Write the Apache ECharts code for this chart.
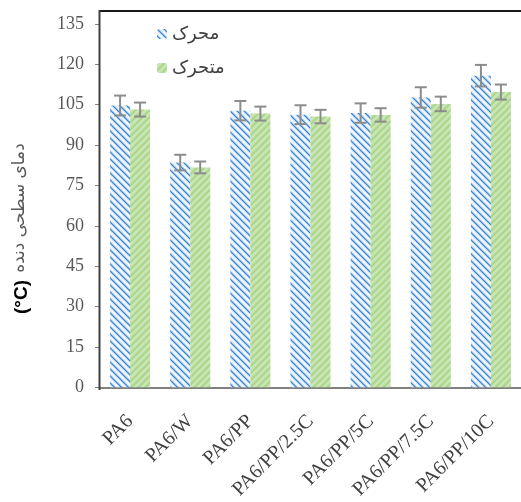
<!DOCTYPE html>
<html>
<head>
<meta charset="utf-8">
<script src="https://cdn.jsdelivr.net/npm/echarts@6/dist/echarts.min.js"></script>
<style>html,body{margin:0;padding:0;background:#fff;}#c{width:521px;height:502px;}</style>
</head>
<body>
<div id="c"></div>
<script>
const categories = ['PA6', 'PA6/W', 'PA6/PP', 'PA6/PP/2.5C', 'PA6/PP/5C', 'PA6/PP/7.5C', 'PA6/PP/10C'];
const seriesNames = ['محرک', 'متحرک'];
const valuesA = [104.7, 83.5, 102.8, 101.3, 101.9, 107.7, 115.8];
const errorsA = [3.7, 2.9, 3.6, 3.5, 3.6, 3.8, 4.0];
const valuesB = [103.2, 81.7, 101.7, 100.6, 101.2, 105.3, 109.7];
const errorsB = [2.6, 2.2, 2.6, 2.5, 2.5, 2.7, 2.8];
const yTicks = [0, 15, 30, 45, 60, 75, 90, 105, 120, 135];
const yTitle = 'دمای سطحی دنده';
const yUnit = '(°C)';

function hex(h){return [parseInt(h.slice(1,3),16),parseInt(h.slice(3,5),16),parseInt(h.slice(5,7),16)];}
function makePattern(size, fn){
  const c = document.createElement('canvas'); c.width = c.height = size;
  const ctx = c.getContext('2d'); const img = ctx.createImageData(size, size);
  for (let y = 0; y < size; y++) for (let x = 0; x < size; x++) {
    const col = hex(fn(x, y)); const o = (y * size + x) * 4;
    img.data[o] = col[0]; img.data[o+1] = col[1]; img.data[o+2] = col[2]; img.data[o+3] = 255;
  }
  ctx.putImageData(img, 0, 0); return c;
}
const blueCols = ['#3a84cf', '#86b8e6', '#cfe2f5', '#eaf2fa', '#fbfdfe', '#e0ecf8', '#b3d1ef'];
const greenCols = ['#a6d484', '#b7dc9c', '#c6e3b1', '#cde7ba', '#c6e3b1', '#bcdfa3', '#b0d992'];
const P = 7;
const bluePat = makePattern(P, (x, y) => blueCols[((x - y) % P + P) % P]);
const greenPat = makePattern(P, (x, y) => greenCols[(x + y) % P]);

function errSeries(values, errs, offset){
  return {
    type: 'custom', silent: true, z: 5,
    data: values.map((v, i) => [i, v, errs[i]]),
    renderItem: function(params, api){
      const i = api.value(0), v = api.value(1), e = api.value(2);
      const hi = api.coord([i, v + e]); const lo = api.coord([i, v - e]);
      const x = hi[0] + offset; const cap = 6;
      const st = {stroke: '#8c8c8c', lineWidth: 2};
      return {type: 'group', children: [
        {type: 'line', shape: {x1: x, y1: hi[1], x2: x, y2: lo[1]}, style: st},
        {type: 'line', shape: {x1: x - cap, y1: hi[1], x2: x + cap, y2: hi[1]}, style: st},
        {type: 'line', shape: {x1: x - cap, y1: lo[1], x2: x + cap, y2: lo[1]}, style: st}
      ]};
    }
  };
}

const chart = echarts.init(document.getElementById('c'), null, {renderer: 'canvas'});
chart.setOption({
  animation: false,
  backgroundColor: '#ffffff',
  grid: {left: 100, right: 0, top: 24, bottom: 113, containLabel: false},
  legend: {
    data: seriesNames, orient: 'vertical', left: 152, top: 20,
    itemWidth: 10, itemHeight: 10, itemGap: 16,
    textStyle: {fontFamily: 'DejaVu Sans', fontSize: 18, color: '#404040'}
  },
  xAxis: {
    type: 'category', data: categories,
    axisLine: {lineStyle: {color: '#808080', width: 2}},
    axisTick: {show: false},
    axisLabel: {interval: 0, rotate: 45, margin: 31, fontFamily: 'Liberation Serif', fontSize: 20, color: '#404040'}
  },
  yAxis: {
    type: 'value', min: yTicks[0], max: yTicks[yTicks.length - 1], interval: yTicks[1] - yTicks[0],
    splitLine: {show: false},
    axisLine: {show: false},
    axisTick: {show: true, length: 5, lineStyle: {color: '#808080', width: 1}},
    axisLabel: {margin: 16, fontFamily: 'Liberation Serif', fontSize: 18, color: '#595959'}
  },
  graphic: [
    {type: 'line', z: 10, shape: {x1: 99, y1: 11, x2: 521, y2: 11}, style: {stroke: '#1a1a1a', lineWidth: 2}},
    {type: 'line', z: 10, shape: {x1: 99.5, y1: 10, x2: 99.5, y2: 390}, style: {stroke: '#404040', lineWidth: 2}},
    {type: 'text', z: 10, x: 20, y: 208, rotation: Math.PI / 2,
     style: {text: yTitle, font: '17px "DejaVu Sans"', fill: '#595959', textAlign: 'center', textVerticalAlign: 'middle'}},
    {type: 'text', z: 10, x: 22, y: 297, rotation: Math.PI / 2,
     style: {text: yUnit, font: 'bold 19px "Liberation Sans"', fill: '#000000', textAlign: 'center', textVerticalAlign: 'middle'}}
  ],
  series: [
    {name: seriesNames[0], type: 'bar', data: valuesA, barWidth: 20, barGap: '0%', itemStyle: {color: {image: bluePat, repeat: 'repeat'}}},
    {name: seriesNames[1], type: 'bar', data: valuesB, barWidth: 20, barGap: '0%', itemStyle: {color: {image: greenPat, repeat: 'repeat'}}},
    errSeries(valuesA, errorsA, -10),
    errSeries(valuesB, errorsB, 10)
  ]
});
</script>
</body>
</html>
